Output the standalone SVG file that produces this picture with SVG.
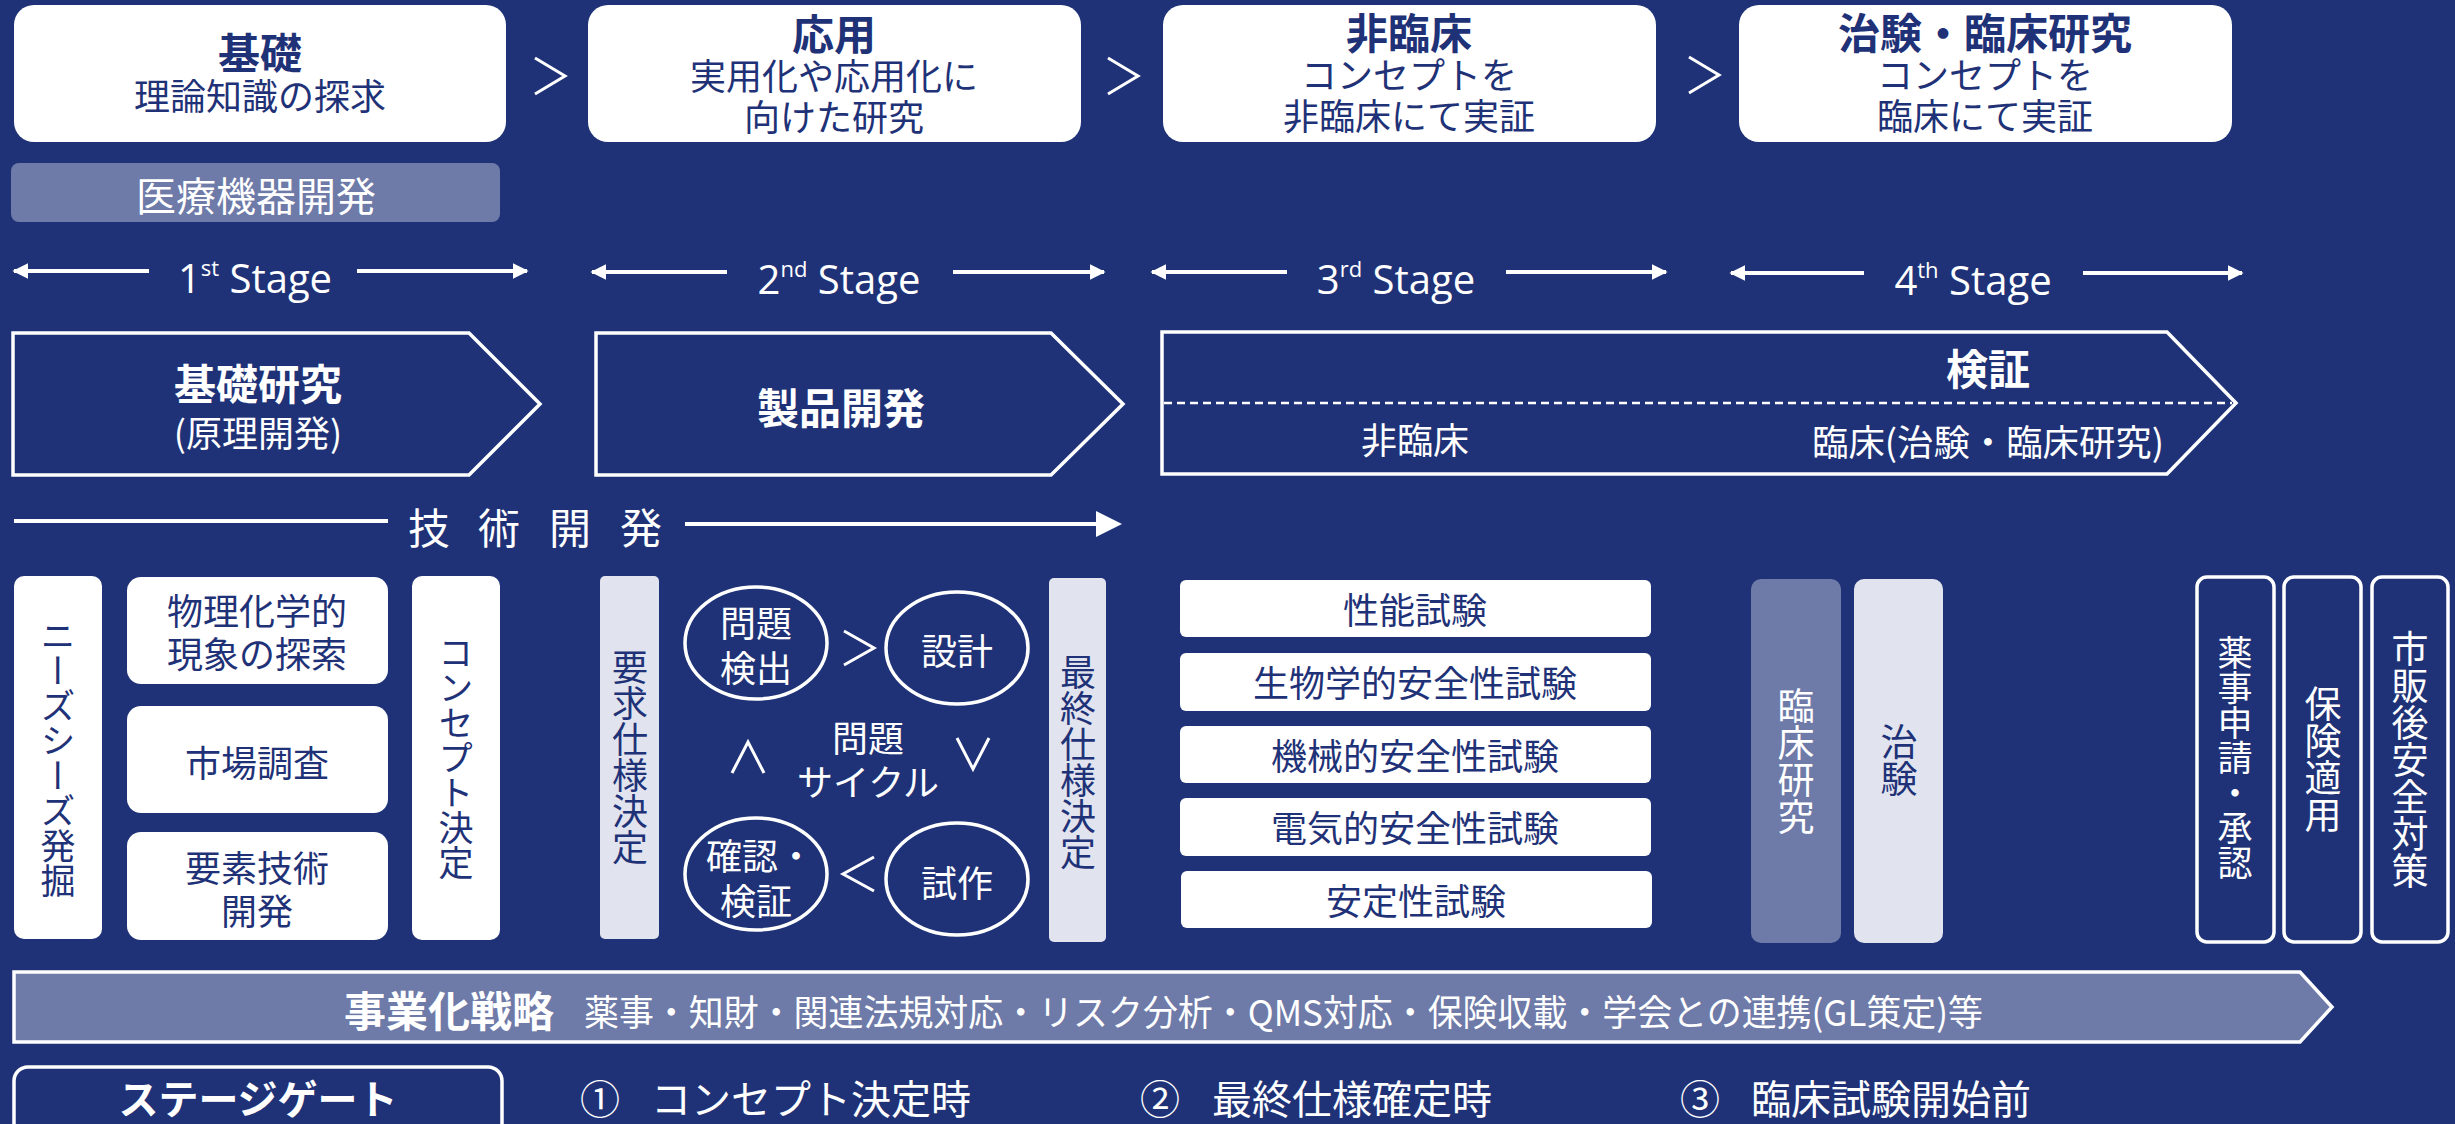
<svg xmlns="http://www.w3.org/2000/svg" width="2455" height="1124" viewBox="0 0 2455 1124">
<defs>
<style>
text{font-family:"Noto Sans CJK JP","Noto Sans",sans-serif;}
.jp{font-size:36px;}
.title{font-size:42px;font-weight:bold;}
.navy{fill:#1f3277;}
.white{fill:#ffffff;}
.wbox{fill:#ffffff;}
.lbox{fill:#e1e4ef;}
.gbox{fill:#6e7aa8;}
.obox{fill:none;stroke:#ffffff;stroke-width:3.5;}
.pent{fill:none;stroke:#ffffff;stroke-width:3.5;}
.vt{writing-mode:vertical-rl;text-anchor:middle;}
.mid{text-anchor:middle;}
.stage{font-family:"Open Sans","Noto Sans",sans-serif;font-size:40px;fill:#ffffff;text-anchor:middle;}
.line{stroke:#ffffff;stroke-width:4;fill:none;}
.chev{stroke:#ffffff;stroke-width:3;fill:none;}
.ell{fill:none;stroke:#ffffff;stroke-width:3.5;}
.b{font-size:42px;font-weight:bold;}
.r{font-size:36px;font-weight:normal;}
</style>
<marker id="ah" viewBox="0 0 10 10" refX="9" refY="5" markerWidth="4" markerHeight="4.5" orient="auto-start-reverse">
<path d="M0,0 L10,5 L0,10 z" fill="#ffffff"/>
</marker>
</defs>
<rect x="0" y="0" width="2455" height="1124" fill="#1f3277"/>

<!-- header boxes -->
<g id="phase-kiso">
<rect x="14" y="5" width="492" height="137" rx="20" class="wbox"/>
<text class="navy mid"><tspan x="260" y="69" class="b">基礎</tspan><tspan x="260" y="110" class="r">理論知識の探求</tspan></text>
</g>
<g id="phase-ouyou">
<rect x="588" y="5" width="493" height="137" rx="20" class="wbox"/>
<text class="navy mid"><tspan x="834" y="50" class="b">応用</tspan><tspan x="834" y="90" class="r">実用化や応用化に</tspan><tspan x="834" y="131" class="r">向けた研究</tspan></text>
</g>
<g id="phase-hirinsho">
<rect x="1163" y="5" width="493" height="137" rx="20" class="wbox"/>
<text class="navy mid"><tspan x="1409" y="49" class="b">非臨床</tspan><tspan x="1409" y="89" class="r">コンセプトを</tspan><tspan x="1409" y="130" class="r">非臨床にて実証</tspan></text>
</g>
<g id="phase-chiken">
<rect x="1739" y="5" width="493" height="137" rx="20" class="wbox"/>
<text class="navy mid"><tspan x="1985" y="49" class="b">治験・臨床研究</tspan><tspan x="1985" y="89" class="r">コンセプトを</tspan><tspan x="1985" y="130" class="r">臨床にて実証</tspan></text>
</g>

<g id="iryo-kiki">
<rect x="11" y="163" width="489" height="59" rx="8" class="gbox"/>
<text x="256" y="211" class="white mid" font-size="40">医療機器開発</text>
</g>

<!-- stages -->
<g id="stage1"><text x="255" y="293" class="stage">1<tspan font-size="22" dy="-17">st</tspan><tspan dy="17"> Stage</tspan></text></g>
<g id="stage2"><text x="839" y="294" class="stage">2<tspan font-size="22" dy="-17">nd</tspan><tspan dy="17"> Stage</tspan></text></g>
<g id="stage3"><text x="1396" y="294" class="stage">3<tspan font-size="22" dy="-17">rd</tspan><tspan dy="17"> Stage</tspan></text></g>
<g id="stage4"><text x="1973" y="295" class="stage">4<tspan font-size="22" dy="-17">th</tspan><tspan dy="17"> Stage</tspan></text></g>

<!-- pentagons -->
<g id="kiso-kenkyu">
<polygon points="13,333 469,333 540,404 469,475 13,475" class="pent"/>
<text class="white mid"><tspan x="258" y="400" class="b">基礎研究</tspan><tspan x="258" y="447" class="r">(原理開発)</tspan></text>
</g>
<g id="seihin-kaihatsu">
<polygon points="596,333 1051,333 1123,404 1051,475 596,475" class="pent"/>
<text x="841" y="424" class="title white mid">製品開発</text>
</g>
<g id="kensho">
<polygon points="1162,332 2167,332 2236,403 2167,474 1162,474" class="pent"/>
<line x1="1164" y1="403" x2="2232" y2="403" stroke="#ffffff" stroke-width="2.5" stroke-dasharray="8 5"/>
<text x="1988" y="385" class="title white mid">検証</text>
<text x="1415" y="454" class="jp white mid">非臨床</text>
<text x="1988" y="456" class="jp white mid" textLength="352" lengthAdjust="spacingAndGlyphs">臨床(治験・臨床研究)</text>
</g>

<g id="gijutsu-kaihatsu">
<text y="544" font-size="42" class="white"><tspan x="408">技</tspan><tspan x="478">術</tspan><tspan x="549">開</tspan><tspan x="620">発</tspan></text>
</g>

<!-- 1st stage items -->
<g id="needs">
<rect x="14" y="576" width="88" height="363" rx="10" class="wbox"/>
<text x="58" y="758" font-size="35" class="vt navy">ニーズシーズ発掘</text>
</g>
<g id="butsuri">
<rect x="127" y="577" width="261" height="107" rx="14" class="wbox"/>
<text class="jp navy mid"><tspan x="257" y="625">物理化学的</tspan><tspan x="257" y="668">現象の探索</tspan></text>
</g>
<g id="shijou">
<rect x="127" y="706" width="261" height="107" rx="14" class="wbox"/>
<text x="257" y="777" class="jp navy mid">市場調査</text>
</g>
<g id="youso">
<rect x="127" y="832" width="261" height="108" rx="14" class="wbox"/>
<text class="jp navy mid"><tspan x="257" y="882">要素技術</tspan><tspan x="257" y="925">開発</tspan></text>
</g>
<g id="concept">
<rect x="412" y="576" width="88" height="364" rx="10" class="wbox"/>
<text x="456" y="758" font-size="35" class="vt navy">コンセプト決定</text>
</g>

<!-- 2nd stage items -->
<g id="youkyu">
<rect x="600" y="576" width="59" height="363" rx="5" class="lbox"/>
<text x="630" y="757" font-size="36" class="vt navy">要求仕様決定</text>
</g>
<g id="saishu">
<rect x="1049" y="578" width="57" height="364" rx="5" class="lbox"/>
<text x="1078" y="762" font-size="36" class="vt navy">最終仕様決定</text>
</g>
<g id="mondai-kenshutsu">
<ellipse cx="756" cy="643" rx="71" ry="56" class="ell"/>
<text class="jp white mid"><tspan x="756" y="637">問題</tspan><tspan x="756" y="682">検出</tspan></text>
</g>
<g id="sekkei">
<ellipse cx="957" cy="648" rx="71" ry="56" class="ell"/>
<text x="957" y="665" class="jp white mid">設計</text>
</g>
<g id="kakunin">
<ellipse cx="756" cy="874" rx="71" ry="56" class="ell"/>
<text class="jp white mid"><tspan x="760" y="870">確認・</tspan><tspan x="756" y="915">検証</tspan></text>
</g>
<g id="shisaku">
<ellipse cx="957" cy="879" rx="71" ry="56" class="ell"/>
<text x="957" y="897" class="jp white mid">試作</text>
</g>
<g id="cycle">
<text class="jp white mid"><tspan x="868" y="752">問題</tspan><tspan x="868" y="796">サイクル</tspan></text>
</g>

<!-- 3rd stage tests -->
<g id="seinou"><rect x="1180" y="580" width="471" height="57" rx="6" class="wbox"/><text x="1415" y="624" class="jp navy mid">性能試験</text></g>
<g id="seibutsu"><rect x="1180" y="653" width="471" height="58" rx="6" class="wbox"/><text x="1415" y="697" class="jp navy mid">生物学的安全性試験</text></g>
<g id="kikai"><rect x="1180" y="726" width="471" height="57" rx="6" class="wbox"/><text x="1415" y="770" class="jp navy mid">機械的安全性試験</text></g>
<g id="denki"><rect x="1180" y="798" width="471" height="58" rx="6" class="wbox"/><text x="1415" y="842" class="jp navy mid">電気的安全性試験</text></g>
<g id="antei"><rect x="1181" y="871" width="471" height="57" rx="6" class="wbox"/><text x="1416" y="915" class="jp navy mid">安定性試験</text></g>

<!-- 4th stage -->
<g id="rinsho-kenkyu">
<rect x="1751" y="579" width="90" height="364" rx="10" class="gbox"/>
<text x="1796" y="761" font-size="37" class="vt white">臨床研究</text>
</g>
<g id="chiken">
<rect x="1854" y="579" width="89" height="364" rx="10" class="lbox"/>
<text x="1899" y="760" font-size="37" class="vt navy">治験</text>
</g>
<g id="yakuji">
<rect x="2197" y="577" width="77" height="365" rx="10" class="obox"/>
<text x="2235" y="758" font-size="35" class="vt white">薬事申請・承認</text>
</g>
<g id="hoken">
<rect x="2284" y="577" width="77" height="365" rx="10" class="obox"/>
<text x="2323" y="759" font-size="37" class="vt white">保険適用</text>
</g>
<g id="shihan">
<rect x="2372" y="577" width="76" height="365" rx="10" class="obox"/>
<text x="2410" y="760" font-size="37" class="vt white">市販後安全対策</text>
</g>

<!-- business strategy -->
<g id="jigyouka">
<polygon points="14,972 2300,972 2332,1007 2300,1042 14,1042" fill="#6e7aa8" stroke="#ffffff" stroke-width="3.5"/>
<text x="344" y="1027" class="title white">事業化戦略</text>
<text x="584" y="1026" class="jp white" textLength="1399" lengthAdjust="spacingAndGlyphs">薬事・知財・関連法規対応・リスク分析・QMS対応・保険収載・学会との連携(GL策定)等</text>
</g>

<!-- stage gate -->
<g id="stage-gate">
<rect x="14" y="1067" width="488" height="90" rx="14" class="obox"/>
<text x="258" y="1114" font-size="40" font-weight="bold" class="white mid">ステージゲート</text>
</g>
<g id="gate1"><text y="1114" font-size="40" class="white"><tspan x="580">①</tspan><tspan x="651">コンセプト決定時</tspan></text></g>
<g id="gate2"><text y="1114" font-size="40" class="white"><tspan x="1140">②</tspan><tspan x="1212">最終仕様確定時</tspan></text></g>
<g id="gate3"><text y="1114" font-size="40" class="white"><tspan x="1680">③</tspan><tspan x="1751">臨床試験開始前</tspan></text></g>

<!-- connectors -->
<g id="connectors">
<polyline points="535,58 565,76 535,94" class="chev"/>
<polyline points="1108,58 1138,76 1108,94" class="chev"/>
<polyline points="1689,57 1719,75 1689,93" class="chev"/>

<line x1="14" y1="271" x2="149" y2="271" class="line" marker-start="url(#ah)"/>
<line x1="357" y1="271" x2="527" y2="271" class="line" marker-end="url(#ah)"/>
<line x1="592" y1="272" x2="727" y2="272" class="line" marker-start="url(#ah)"/>
<line x1="953" y1="272" x2="1104" y2="272" class="line" marker-end="url(#ah)"/>
<line x1="1152" y1="272" x2="1287" y2="272" class="line" marker-start="url(#ah)"/>
<line x1="1506" y1="272" x2="1666" y2="272" class="line" marker-end="url(#ah)"/>
<line x1="1731" y1="273" x2="1864" y2="273" class="line" marker-start="url(#ah)"/>
<line x1="2083" y1="273" x2="2242" y2="273" class="line" marker-end="url(#ah)"/>

<line x1="14" y1="521" x2="388" y2="521" class="line"/>
<line x1="685" y1="524" x2="1100" y2="524" class="line"/>
<polygon points="1096,511 1122,524 1096,537" fill="#ffffff"/>

<polyline points="844,631 874,648 844,665" class="chev"/>
<polyline points="874,857 843,874 874,891" class="chev"/>
<polyline points="732,773 748,742 764,773" class="chev"/>
<polyline points="957,738 973,769 989,738" class="chev"/>
</g>
</svg>
